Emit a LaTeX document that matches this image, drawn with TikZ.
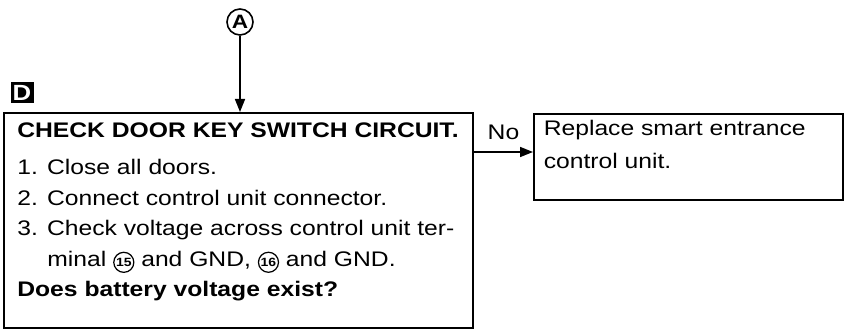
\documentclass[tikz,border=0pt]{standalone}
\usepackage{fontspec}
\setmainfont[FakeStretch=1.17]{Liberation Sans}
\usetikzlibrary{arrows.meta,positioning,calc}

\newcommand{\cnum}[1]{\tikz[baseline=(cn.base)]\node[draw, circle, line width=0.7pt, inner sep=0.5pt, minimum size=3.9mm, font=\fontsize{6.8}{6.8}\selectfont\bfseries] (cn) {#1};}

\begin{document}
\begin{tikzpicture}[>={Triangle[length=2.6mm, width=2mm]}, line width=0.9pt,
      box/.style={draw, line width=1.1pt, anchor=north west},
      txt/.style={align=left, anchor=north west, inner sep=0pt, font=\fontsize{12}{17.4}\selectfont},
      tag/.style={fill=black, text=white, font=\fontsize{12.5}{12.5}\selectfont\bfseries, inner sep=0pt, minimum width=4.6mm, minimum height=4.2mm},
      conn/.style={draw, circle, line width=0.9pt, inner sep=0pt, minimum size=5.2mm, font=\fontsize{11}{11}\selectfont\bfseries}]
      \useasboundingbox (0,0) rectangle (16.88,6.58);
      \node[conn] (A) at (4.80,6.14) {A};
      \node[tag]  (D) at (0.44,4.72) {D};
      \node[box, minimum width=9.38cm, minimum height=4.30cm] (check) at (0.06,4.34) {};
      \node[txt] (checktext) at (0.34,4.13) {\textbf{CHECK DOOR KEY SWITCH CIRCUIT.}\\[3.7pt]1. Close all doors.\\2. Connect control unit connector.\\3. Check voltage across control unit ter-\\\hspace*{0.6cm}minal \cnum{15} and GND, \cnum{16} and GND.\\\textbf{Does battery voltage exist?}};
      \node[box, minimum width=6.18cm, minimum height=1.72cm] (replace) at (10.66,4.32) {};
      \node[txt, font=\fontsize{12}{18.8}\selectfont] (replacetext) at (10.86,4.19) {Replace smart entrance\\control unit.};
      \draw[->] (A) -- (A |- check.north);
      \coordinate (nojoin) at ([yshift=-8mm]check.north east);
      \draw[->] (nojoin) -- (nojoin -| replace.west) node[midway, above=1.2mm, font=\fontsize{12}{12}\selectfont] (no) {No};
    \end{tikzpicture}
\end{document}
